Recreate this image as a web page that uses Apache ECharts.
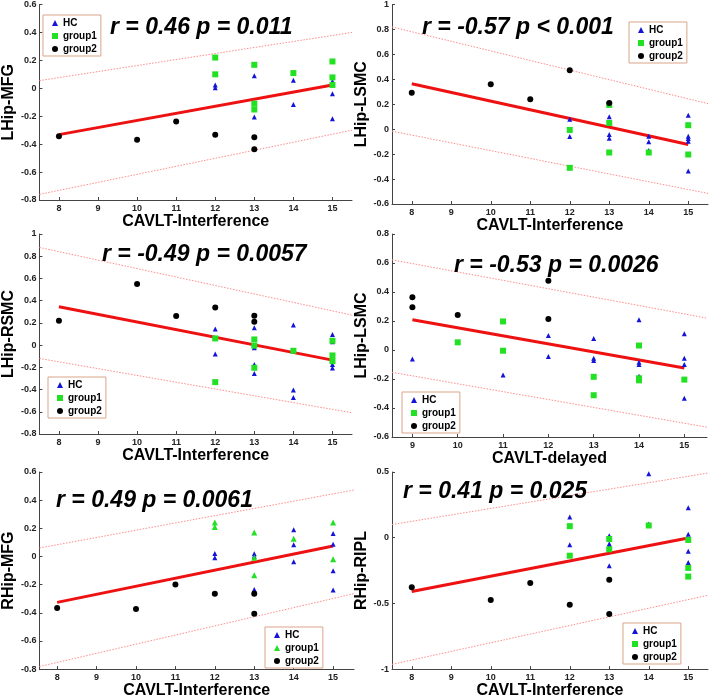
<!DOCTYPE html>
<html><head><meta charset="utf-8">
<script src="https://cdn.jsdelivr.net/npm/echarts@6/dist/echarts.min.js"></script>
<style>html,body{margin:0;padding:0;background:#fff}#c{width:709px;height:700px}</style>
</head><body><div id="c"></div><script>
// ---------------- DATA ----------------
const xTicksA = [8, 9, 10, 11, 12, 13, 14, 15];
const xTicksB = [9, 10, 11, 12, 13, 14, 15];
const seriesNames = ['HC', 'group1', 'group2'];
const xNames = ['CAVLT-Interference', 'CAVLT-Interference', 'CAVLT-Interference', 'CAVLT-delayed', 'CAVLT-Interference', 'CAVLT-Interference'];
const yNames = ['LHip-MFG', 'LHip-LSMC', 'LHip-RSMC', 'LHip-LSMC', 'RHip-MFG', 'RHip-RIPL'];
const statTexts = ['r = 0.46 p = 0.011', 'r = -0.57 p < 0.001', 'r = -0.49 p = 0.0057', 'r = -0.53 p = 0.0026', 'r = 0.49 p = 0.0061', 'r = 0.41 p = 0.025'];

// Panel 1: LHip-MFG
const p1HC = [[12,0.024],[12,0.003],[13,0.09],[13,-0.206],[14,0.057],[14,-0.116],[15,0.05],[15,-0.04],[15,-0.218]];
const p1G1 = [[12,0.22],[12,0.10],[13,0.168],[13,-0.11],[13,-0.152],[14,0.109],[15,0.192],[15,0.078],[15,0.024]];
const p1G2 = [[8,-0.344],[10,-0.368],[11,-0.237],[12,-0.333],[13,-0.35],[13,-0.437]];
const p1Fit = [[8,-0.332],[15,0.024]];
const p1Up = [[7.5,0.055],[15.5,0.40]];
const p1Lo = [[7.5,-0.76],[15.5,-0.30]];

// Panel 2: LHip-LSMC vs interference
const p2HC = [[12,0.08],[12,-0.058],[13,0.099],[13,-0.042],[13,-0.072],[13,-0.187],[14,-0.056],[14,-0.101],[14,-0.17],[15,0.112],[15,-0.056],[15,-0.075],[15,-0.096],[15,-0.336]];
const p2G1 = [[12,-0.006],[12,-0.31],[13,0.195],[13,0.05],[13,-0.187],[14,-0.187],[15,0.032],[15,-0.203]];
const p2G2 = [[8,0.293],[10,0.36],[11,0.24],[12,0.472],[13,0.21]];
const p2Fit = [[8,0.365],[15,-0.123]];
const p2Up = [[7.5,0.82],[15.5,0.205]];
const p2Lo = [[7.5,-0.016],[15.5,-0.515]];

// Panel 3: LHip-RSMC
const p3HC = [[12,0.144],[12,-0.081],[13,0.156],[13,-0.024],[13,-0.174],[13,-0.255],[14,0.18],[14,-0.405],[14,-0.471],[15,0.096],[15,0.03],[15,-0.174],[15,-0.207]];
const p3G1 = [[12,0.06],[12,-0.333],[13,0.051],[13,-0.005],[13,-0.204],[14,-0.051],[15,0.039],[15,-0.093],[15,-0.144]];
const p3G2 = [[8,0.219],[10,0.549],[11,0.261],[12,0.339],[13,0.264],[13,0.21]];
const p3Fit = [[8,0.345],[15,-0.135]];
const p3Up = [[7.5,0.879],[15.5,0.27]];
const p3Lo = [[7.5,-0.12],[15.5,-0.609]];

// Panel 4: LHip-LSMC vs delayed
const p4HC = [[9,-0.062],[11,-0.172],[12,0.1],[12,-0.045],[13,0.08],[13,-0.057],[13,-0.073],[14,0.209],[14,-0.085],[14,-0.1],[14,-0.181],[15,0.112],[15,-0.057],[15,-0.1],[15,-0.333]];
const p4G1 = [[10,0.053],[11,0.197],[11,-0.005],[13,-0.185],[13,-0.312],[14,0.031],[14,-0.195],[14,-0.209],[15,-0.204]];
const p4G2 = [[9,0.363],[9,0.294],[10,0.241],[12,0.477],[12,0.213]];
const p4Fit = [[9,0.209],[15,-0.124]];
const p4Up = [[8.55,0.622],[15.5,0.22]];
const p4Lo = [[8.55,-0.154],[15.5,-0.532]];

// Panel 5: RHip-MFG
const p5HC = [[12,0.021],[12,-0.009],[13,0.02],[13,0.002],[13,-0.234],[13,-0.25],[14,0.19],[14,0.083],[14,-0.037],[15,0.164],[15,0.086],[15,-0.102],[15,-0.238]];
const p5G1 = [[12,0.241],[12,0.21],[13,0.171],[13,-0.009],[13,-0.134],[14,0.125],[15,0.241],[15,-0.019]];
const p5G2 = [[8,-0.366],[10,-0.373],[11,-0.199],[12,-0.264],[13,-0.264],[13,-0.407]];
const p5Fit = [[8,-0.326],[15,0.074]];
const p5Up = [[7.55,0.06],[15.53,0.472]];
const p5Lo = [[7.55,-0.782],[15.53,-0.264]];

// Panel 6: RHip-RIPL
const p6HC = [[12,0.157],[12,-0.054],[13,0.015],[13,-0.046],[13,-0.064],[13,-0.213],[14,0.487],[14,0.105],[15,0.228],[15,0.027],[15,-0.103],[15,-0.188]];
const p6G1 = [[12,0.088],[12,-0.137],[13,-0.01],[13,-0.088],[14,0.093],[15,-0.017],[15,-0.23],[15,-0.296]];
const p6G2 = [[8,-0.377],[10,-0.475],[11,-0.345],[12,-0.511],[13,-0.32],[13,-0.58]];
const p6Fit = [[8,-0.409],[15,-0.002]];
const p6Up = [[7.5,0.10],[15.5,0.492]];
const p6Lo = [[7.5,-0.964],[15.5,-0.438]];

// ---------------- LAYOUT / STYLE ----------------
const FONT = '"Liberation Sans", Arial, Helvetica, sans-serif';
const BLUE = '#1414d8', GREEN = '#22e022', BLACK = '#000000', RED = '#ee1111', BAND = '#ff8c8c';
const panels = [
  {data:[p1HC,p1G1,p1G2,p1Fit,p1Up,p1Lo], g:{left:35,top:3,width:317,height:197}, x:[7.5,15.5], y:[-0.8,0.6,0.2], ticks:xTicksA, g1Sym:'rect', txt:[110,28], leg:{left:43,top:15}},
  {data:[p2HC,p2G1,p2G2,p2Fit,p2Up,p2Lo], g:{left:392,top:4,width:316,height:200}, x:[7.5,15.5], y:[-0.6,1,0.2], ticks:xTicksA, g1Sym:'rect', txt:[422,28], leg:{left:629,top:22}},
  {data:[p3HC,p3G1,p3G2,p3Fit,p3Up,p3Lo], g:{left:35,top:234,width:317,height:200}, x:[7.5,15.5], y:[-0.8,1,0.2], ticks:xTicksA, g1Sym:'rect', txt:[102,255], leg:{left:48,top:377}},
  {data:[p4HC,p4G1,p4G2,p4Fit,p4Up,p4Lo], g:{left:392,top:234,width:315,height:203}, x:[8.55,15.5], y:[-0.6,0.8,0.2], ticks:xTicksB, g1Sym:'rect', txt:[454,266], leg:{left:402,top:392}},
  {data:[p5HC,p5G1,p5G2,p5Fit,p5Up,p5Lo], g:{left:38,top:472,width:316,height:201}, x:[7.55,15.53], y:[-0.8,0.6,0.2], ticks:xTicksA, g1Sym:'triangle', txt:[56,501], leg:{left:265,top:627}},
  {data:[p6HC,p6G1,p6G2,p6Fit,p6Up,p6Lo], g:{left:392,top:472,width:316,height:205}, x:[7.5,15.5], y:[-1,0.5,0.5], ticks:xTicksA, g1Sym:'rect', txt:[403,492], leg:{left:623,top:623}}
];

const grid = [], xAxis = [], yAxis = [], series = [], legend = [], graphic = [];
panels.forEach((p, i) => {
  grid.push(Object.assign({containLabel:false}, p.g));
  xAxis.push({
    type:'value', gridIndex:i, min:p.x[0], max:p.x[1],
    name:xNames[i], nameLocation:'middle', nameGap:11,
    nameTextStyle:{fontFamily:FONT, fontSize:16, fontWeight:'bold', color:'#000'},
    axisLine:{show:true, onZero:false, lineStyle:{color:'#444', width:1}},
    axisTick:{show:true, inside:true, length:3, customValues:p.ticks, lineStyle:{color:'#444'}},
    axisLabel:{customValues:p.ticks, fontFamily:FONT, fontSize:9, fontWeight:'bold', color:'#222', margin:4},
    splitLine:{show:false}
  });
  yAxis.push({
    type:'value', gridIndex:i, min:p.y[0], max:p.y[1], interval:p.y[2],
    name:yNames[i], nameLocation:'middle', nameGap:22,
    nameTextStyle:{fontFamily:FONT, fontSize:16, fontWeight:'bold', color:'#000'},
    axisLine:{show:true, onZero:false, lineStyle:{color:'#444', width:1}},
    axisTick:{show:true, inside:true, length:3, lineStyle:{color:'#444'}},
    axisLabel:{fontFamily:FONT, fontSize:9, fontWeight:'bold', color:'#222', margin:3,
      formatter:v => String(Math.round(v*10)/10)},
    splitLine:{show:false}
  });
  const syms = ['triangle', p.g1Sym, 'circle'];
  const cols = [BLUE, GREEN, BLACK];
  const sizes = [5, 6, 6];
  // bands and fit
  series.push({type:'line', xAxisIndex:i, yAxisIndex:i, data:p.data[4], showSymbol:false, silent:true, z:2,
    lineStyle:{color:BAND, width:1, type:[1.5,1.5]}});
  series.push({type:'line', xAxisIndex:i, yAxisIndex:i, data:p.data[5], showSymbol:false, silent:true, z:2,
    lineStyle:{color:BAND, width:1, type:[1.5,1.5]}});
  series.push({type:'line', xAxisIndex:i, yAxisIndex:i, data:p.data[3], showSymbol:false, silent:true, z:3,
    lineStyle:{color:RED, width:3}});
  for (let k = 0; k < 3; k++) {
    series.push({type:'scatter', name:seriesNames[k], xAxisIndex:i, yAxisIndex:i, data:p.data[k],
      symbol:syms[k], symbolSize:sizes[k], z:5, itemStyle:{color:cols[k], opacity:1}});
  }
  legend.push({
    left:p.leg.left, top:p.leg.top, orient:'vertical', selectedMode:false,
    backgroundColor:'#fff', borderColor:'#d9a48a', borderWidth:1, borderRadius:0,
    padding:[2,4,1,9], itemGap:1, itemWidth:6, itemHeight:6,
    textStyle:{fontFamily:FONT, fontSize:10, fontWeight:'bold', color:'#000', lineHeight:12, padding:[0,0,0,0]},
    data:seriesNames.map((n, k) => ({name:n, icon:syms[k], itemStyle:{color:cols[k]}}))
  });
  graphic.push({type:'text', x:p.txt[0], y:p.txt[1], z:10,
    style:{text:statTexts[i], font:'italic bold 23px ' + FONT, fill:'#000', verticalAlign:'middle', textVerticalAlign:'middle'}});
});

const chart = echarts.init(document.getElementById('c'), null, {renderer:'canvas'});
chart.setOption({animation:false, backgroundColor:'#fff', grid, xAxis, yAxis, series, legend, graphic});
</script></body></html>
